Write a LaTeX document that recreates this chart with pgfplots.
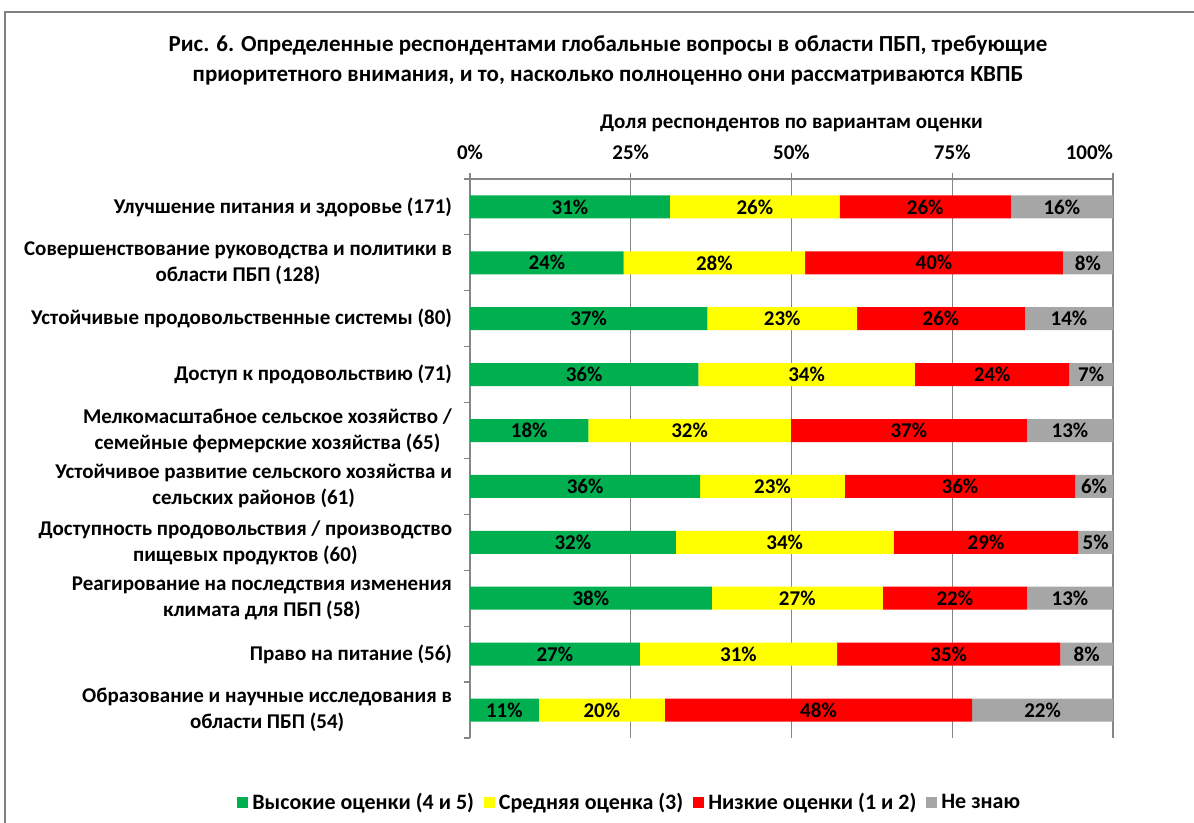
\documentclass[border=0pt]{standalone}
\usepackage{pgfplots}
\pgfplotsset{compat=1.18}
\usepackage{pgfplotstable}
\usepackage{fontspec}
\setmainfont{Carlito}
\definecolor{cgreen}{HTML}{00B050}
\definecolor{cyellow}{HTML}{FFFF00}
\definecolor{cred}{HTML}{FF0000}
\definecolor{cgrey}{HTML}{A6A6A6}
\definecolor{axgray}{HTML}{868686}
\definecolor{framegray}{HTML}{808080}

\pgfplotstableread{
y v lab
9 31.1 31
8 23.9 24
7 36.9 37
6 35.5 36
5 18.4 18
4 35.8 36
3 32.0 32
2 37.6 38
1 26.4 27
0 10.7 11
}\high
\pgfplotstableread{
y v lab
9 26.4 26
8 28.2 28
7 23.3 23
6 33.7 34
5 31.5 32
4 22.5 23
3 33.9 34
2 26.6 27
1 30.7 31
0 19.6 20
}\mid
\pgfplotstableread{
y v lab
9 26.6 26
8 40.1 40
7 26.1 26
6 24.0 24
5 36.7 37
4 35.8 36
3 28.7 29
2 22.4 22
1 34.7 35
0 47.8 48
}\low
\pgfplotstableread{
y v lab
9 15.9 16
8 7.8 8
7 13.7 14
6 6.8 7
5 13.4 13
4 5.9 6
3 5.4 5
2 13.4 13
1 8.2 8
0 21.9 22
}\dunno

\begin{document}
\begin{tikzpicture}
\path[use as bounding box] (0,0) rectangle (597pt,-411.5pt);
\draw[framegray, line width=1pt] (2.5pt,-411.5pt) -- (2.5pt,-6pt) -- (597pt,-6pt);
\node[font=\bfseries\fontsize{11.5}{15}\selectfont, align=center] at (304pt,-30pt)
  {Рис. 6. Определенные респондентами глобальные вопросы в области ПБП, требующие\\
   приоритетного внимания, и то, насколько полноценно они рассматриваются КВПБ};
\begin{axis}[
  at={(235pt,-89.5pt)}, anchor=north west,
  width=321.5pt, height=279.5pt, scale only axis,
  xbar stacked, bar width=11.5pt,
  xmin=0, xmax=100, ymin=-0.5, ymax=9.5,
  axis x line*=top, axis y line*=left,
  axis line style={axgray, line width=0.6pt},
  xtick={0,25,50,75,100},
  xticklabels={0\%,25\%,50\%,75\%,\makebox[0pt][r]{100\%}},
  xmajorgrids, grid style={axgray, line width=0.6pt},
  tick align=outside,
  major tick length=3pt,
  minor tick length=3pt,
  xlabel={Доля респондентов по вариантам оценки},
  xlabel style={font=\bfseries\fontsize{10.5}{12}\selectfont},
  ticklabel style={font=\bfseries\fontsize{10.5}{13}\selectfont},
  xticklabel style={yshift=3pt},
  x tick style={axgray, line width=0.6pt},
  ytick={0,...,9},
  yticklabels={
    {Образование и научные исследования в\\области ПБП (54)},
    {Право на питание (56)},
    {Реагирование на последствия изменения\\климата для ПБП (58)},
    {Доступность продовольствия / производство\\пищевых продуктов (60)},
    {Устойчивое развитие сельского хозяйства и\\сельских районов (61)},
    {Мелкомасштабное сельское хозяйство /\\семейные фермерские хозяйства (65)},
    {Доступ к продовольствию (71)},
    {Устойчивые продовольственные системы (80)},
    {Совершенствование руководства и политики в\\области ПБП (128)},
    {Улучшение питания и здоровье (171)}},
  yticklabel style={align=center, xshift=-2.5pt},
  minor ytick={-0.5,0.5,...,9.5},
  major y tick style={draw=none},
  minor y tick style={axgray, line width=0.6pt},
  point meta=explicit symbolic,
  nodes near coords={\pgfplotspointmeta\%},
  every node near coord/.append style={anchor=center,
     font=\bfseries\fontsize{10.5}{12}\selectfont, text=black},
  legend columns=4,
  legend image code/.code={\fill[#1] (0pt,-2.75pt) rectangle (5.5pt,2.75pt);},
  legend style={at={(axis description cs:0.25,-0.116)}, anchor=center, draw=none,
     font=\bfseries\fontsize{11}{12}\selectfont,
     /tikz/every even column/.append style={column sep=3pt}},
]
\addplot[fill=cgreen, draw=none] table[x=v, y=y, meta=lab] {\high};
\addplot[fill=cyellow, draw=none] table[x=v, y=y, meta=lab] {\mid};
\addplot[fill=cred, draw=none] table[x=v, y=y, meta=lab] {\low};
\addplot[fill=cgrey, draw=none] table[x=v, y=y, meta=lab] {\dunno};
\legend{Высокие оценки (4 и 5), Средняя оценка (3), Низкие оценки (1 и 2), Не знаю}
\end{axis}
\end{tikzpicture}
\end{document}
